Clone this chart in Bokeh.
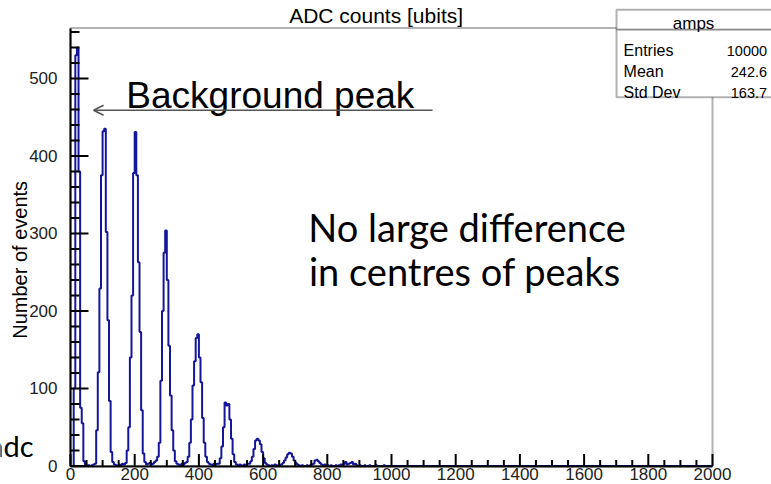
import math
from bokeh.plotting import figure
from bokeh.models import (Range1d, Label, BoxAnnotation, Arrow, OpenHead,
                          SingleIntervalTicker)
from bokeh.embed import file_html
from bokeh.resources import INLINE

# ---------------- data ----------------
hist_name = "amps"
hist_title = "ADC counts [ubits]"
y_title = "Number of events"
x_min, x_max = 0, 2000
y_max = 565
bin_width = 5
# counts per 5-unit bin, 0..1000 (one row = 100 ADC units); no entries above 1000
counts = [
    0, 0, 100, 530, 540, 380, 75, 55, 6, 2, 0, 1, 0, 1, 2, 3, 46, 121, 229, 375,          # 0-100
    432, 435, 302, 188, 84, 18, 5, 2, 1, 0, 2, 1, 3, 2, 4, 20, 50, 140, 220, 378,         # 100-200
    431, 375, 263, 173, 72, 16, 5, 2, 3, 4, 2, 3, 5, 7, 12, 30, 110, 200, 275, 304,       # 200-300
    240, 155, 91, 46, 20, 6, 3, 2, 1, 3, 2, 4, 5, 12, 30, 60, 104, 135, 165, 170,         # 300-400
    140, 108, 62, 30, 12, 5, 3, 2, 1, 3, 2, 3, 3, 10, 25, 50, 82, 78, 80, 60,             # 400-500
    35, 15, 5, 2, 1, 2, 1, 0, 2, 1, 3, 3, 6, 12, 22, 33, 35, 33, 28, 18,                  # 500-600
    10, 4, 2, 1, 0, 1, 0, 2, 1, 0, 1, 2, 4, 7, 11, 15, 17, 16, 12, 7,                     # 600-700
    4, 2, 1, 0, 1, 0, 0, 1, 0, 1, 2, 3, 7, 8, 6, 4, 2, 1, 2, 1,                           # 700-800
    1, 0, 1, 0, 0, 1, 0, 1, 2, 1, 3, 5, 2, 3, 4, 5, 2, 3, 1, 0,                           # 800-900
    1, 0, 0, 1, 0, 0, 1, 0, 0, 0, 1, 0, 0, 0, 0, 1, 0, 0, 0, 0,                           # 900-1000
]
stats_labels = ["Entries", "Mean", "Std Dev"]
stats_values = ["10000", "242.6", "163.7"]
note_arrow = "Background peak"
note_lines = ["No large difference", "in centres of peaks"]
corner_text = "adc"

# axis divisions (ROOT style: majors 200 / 100, minors 50 / 20)
x_major_step, x_minor_step = 200, 50
y_major_step, y_minor_step = 100, 20

# full histogram table (empty bins above 1000)
n_bins = (x_max - x_min) // bin_width
all_counts = counts + [0] * (n_bins - len(counts))
edges = [x_min + i * bin_width for i in range(n_bins)] + [x_max]
step_y = all_counts + [all_counts[-1]]

x_major = list(range(x_min, x_max + 1, x_major_step))
x_minor = [v for v in range(x_min, x_max + 1, x_minor_step) if v % x_major_step]
y_major = list(range(0, y_max + 1, y_major_step))
y_minor = [v for v in range(0, y_max + 1, y_minor_step) if v % y_major_step]

# ---------------- figure ----------------
# The plotting area covers the whole canvas; the ROOT-style frame, axes and
# the stats box are placed inside it (axes at fixed locations).
W, H = 771, 484
FX0, FX1 = 70.0, 712.0       # pixel columns of x = 0 and x = 2000
FY0, FYT = 465.5, 27.6       # pixel rows of y = 0 and y = 565
sx = (FX1 - FX0) / (x_max - x_min)
sy = (FY0 - FYT) / y_max
p = figure(width=W, height=H, output_backend="svg", toolbar_location=None,
           x_range=Range1d(x_min - FX0 / sx, x_min + (W - FX0) / sx),
           y_range=Range1d(-(H - FY0) / sy, FY0 / sy),
           min_border=0, min_border_left=0, min_border_right=0,
           min_border_top=0, min_border_bottom=0, title=None)
p.background_fill_color = "white"
p.border_fill_color = "white"
p.grid.visible = False
p.outline_line_color = None

BLUE = "#16169a"
p.step(x=edges, y=step_y, mode="after", line_color=BLUE, line_width=2)

FONT = "Liberation Sans"

# axes (fixed on the frame edges) carry the tick labels
xa = p.xaxis[0]
xa.ticker = SingleIntervalTicker(interval=x_major_step, num_minor_ticks=4)
xa.fixed_location = 0
xa.bounds = (x_min, x_max)
ya = p.yaxis[0]
ya.ticker = SingleIntervalTicker(interval=y_major_step, num_minor_ticks=5)
ya.fixed_location = x_min
ya.bounds = (0, y_max)
for ax in (xa, ya):
    ax.axis_line_color = "black"
    ax.axis_line_width = 2
    ax.major_tick_line_color = None
    ax.minor_tick_line_color = None
    ax.major_label_text_font = FONT
    ax.major_label_text_font_size = "17px"
    ax.major_label_text_color = "#222222"
xa.major_label_standoff = -4
ya.major_label_standoff = 7

# inward tick marks (pixel lengths as in ROOT)
TICK = dict(line_color="black", line_width=2, length_units="screen")
p.ray(x=[x_min] * len(y_major), y=y_major, length=18, angle=0, **TICK)
p.ray(x=[x_min] * len(y_minor), y=y_minor, length=9, angle=0, **TICK)
p.ray(x=x_major, y=[0] * len(x_major), length=12, angle=math.pi / 2, **TICK)
p.ray(x=x_minor, y=[0] * len(x_minor), length=6, angle=math.pi / 2, **TICK)

# frame
p.add_layout(BoxAnnotation(left=x_min, right=x_max, bottom=0, top=y_max,
                           fill_alpha=0, line_color="black", line_width=2))

# ---------------- texts ----------------
def lab(**kw):
    kw.setdefault("text_font", FONT)
    kw.setdefault("text_color", "black")
    kw.setdefault("text_baseline", "alphabetic")
    return Label(**kw)

p.add_layout(lab(x=952, y=581, text=hist_title, text_align="center",
                 text_font_size="21px"))
p.add_layout(lab(x=-156, y=266, text=y_title, angle=math.pi / 2,
                 text_align="center", text_baseline="middle",
                 text_font_size="20px"))
p.add_layout(lab(x=-115, y=26, text=corner_text, text_align="right",
                 text_font="Lato", text_font_size="29px"))

p.add_layout(lab(x=174, y=478, text=note_arrow, text_font_size="37px"))
p.add_layout(Arrow(end=OpenHead(size=10, line_color="#555555", line_width=1.5),
                   x_start=1128, y_start=459, x_end=72, y_end=459,
                   line_color="#555555", line_width=1.5))

NOTE_FONT = "Lato"
p.add_layout(lab(x=741, y=308, text=note_lines[0], text_font=NOTE_FONT,
                 text_font_size="38px"))
p.add_layout(lab(x=743, y=252, text=note_lines[1], text_font=NOTE_FONT,
                 text_font_size="38px"))

# stats box (top-right corner, over the frame)
p.add_layout(BoxAnnotation(left=1701, right=2300, top=588.6, bottom=562.8,
                           fill_color="white", fill_alpha=1, line_color="black",
                           line_width=2, level="overlay"))
p.add_layout(BoxAnnotation(left=1701, right=2300, top=562.8, bottom=475.9,
                           fill_color="white", fill_alpha=1, line_color="black",
                           line_width=2, level="overlay"))
p.add_layout(lab(x=1941, y=570.6, text=hist_name, text_align="center",
                 text_font_size="17px", level="overlay"))
row_y = [536, 509, 481.5]
for name, val, yy in zip(stats_labels, stats_values, row_y):
    p.add_layout(lab(x=1723, y=yy, text=name, text_font_size="16px",
                     level="overlay"))
    p.add_layout(lab(x=2170, y=yy, text=val, text_align="right",
                     text_font_size="14.5px", level="overlay"))

open("out.html", "w").write(file_html(p, INLINE))
